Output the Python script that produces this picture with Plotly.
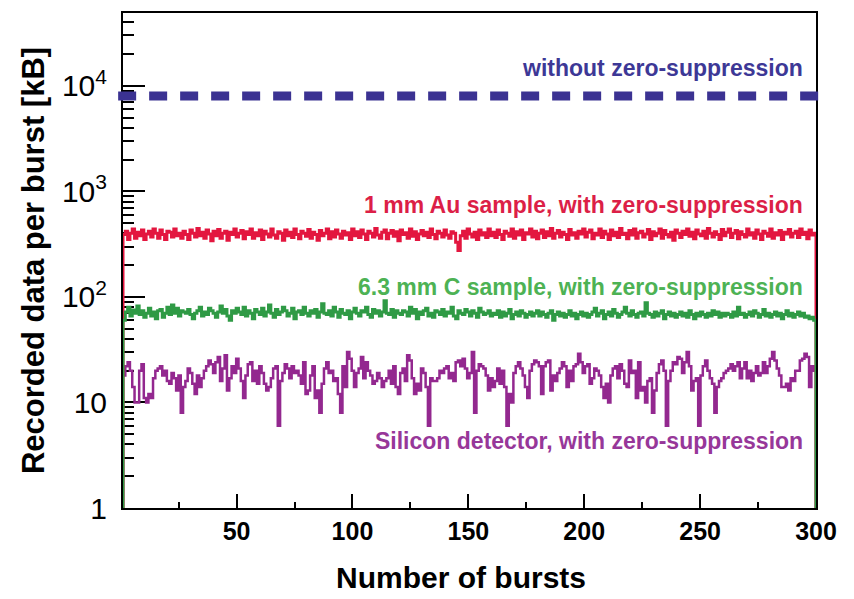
import numpy as np
import plotly.graph_objects as go

# ---------------- data ----------------
X_MIN, X_MAX = 1, 300
WITHOUT_ZS = 8000  # kB per burst, without zero-suppression

AU_1MM = [
    390, 420, 350, 400, 440, 360, 410, 380, 430, 350, 395, 420, 370, 440, 400, 360, 430, 390, 350, 420,
    410, 370, 440, 380, 400, 360, 420, 390, 350, 430, 400, 370, 445, 380, 410, 360, 430, 395, 340, 420,
    380, 435, 360, 400, 420, 345, 410, 390, 440, 370, 400, 425, 355, 415, 390, 440, 360, 405, 380, 430,
    350, 420, 395, 370, 440, 385, 360, 415, 400, 345, 430, 380, 410, 365, 440, 390, 355, 420, 400, 375,
    435, 360, 410, 390, 345, 425, 380, 400, 440, 355, 415, 370, 430, 395, 360, 420, 385, 405, 350, 440,
    380, 415, 365, 430, 395, 350, 420, 400, 370, 445, 385, 360, 410, 430, 355, 400, 425, 375, 415, 340,
    430, 390, 405, 360, 440, 375, 415, 350, 395, 425, 380, 410, 365, 440, 390, 355, 420, 400, 370, 430,
    385, 360, 415, 400, 330, 275, 380, 420, 360, 440, 395, 370, 410, 350, 430, 385, 405, 365, 440, 380,
    410, 365, 430, 390, 350, 420, 400, 375, 440, 360, 415, 385, 430, 350, 405, 395, 440, 370, 420, 355,
    400, 430, 365, 415, 380, 445, 360, 400, 425, 370, 410, 390, 350, 435, 385, 405, 360, 420, 395, 440,
    370, 410, 430, 355, 400, 385, 440, 365, 420, 395, 350, 430, 380, 410, 365, 445, 390, 400, 355, 425,
    385, 440, 360, 405, 420, 370, 395, 435, 350, 415, 380, 400, 440, 360, 425, 390, 370, 410, 345, 430,
    400, 365, 420, 390, 440, 375, 410, 355, 430, 395, 380, 420, 360, 445, 400, 370, 415, 390, 350, 435,
    380, 410, 440, 365, 400, 425, 355, 415, 390, 370, 440, 385, 405, 360, 430, 395, 350, 420, 400, 375,
    440, 360, 405, 385, 425, 350, 410, 395, 435, 370, 400, 420, 365, 440, 390, 410, 355, 430, 385, 400,
]

C_6MM = [
    60, 72, 80, 66, 75, 70, 82, 68, 74, 64, 70, 78, 66, 72, 62, 74, 76, 64, 70, 80,
    68, 84, 70, 78, 66, 74, 72, 70, 76, 68, 62, 70, 74, 80, 66, 72, 68, 78, 74, 70,
    64, 72, 82, 70, 76, 66, 60, 74, 70, 78, 72, 68, 80, 66, 74, 70, 62, 76, 72, 68,
    78, 66, 72, 84, 70, 64, 76, 68, 72, 80, 74, 66, 70, 78, 62, 72, 74, 68, 80, 70,
    66, 74, 70, 76, 64, 72, 86, 70, 68, 74, 66, 80, 72, 64, 76, 70, 68, 74, 62, 72,
    78, 70, 66, 74, 72, 80, 68, 64, 76, 70, 74, 66, 72, 92, 70, 68, 76, 64, 74, 70,
    68, 74, 72, 66, 80, 70, 76, 62, 72, 68, 74, 78, 66, 70, 64, 74, 72, 68, 76, 66,
    72, 70, 80, 66, 62, 74, 70, 68, 76, 72, 66, 74, 70, 64, 78, 72, 68, 70, 74, 66,
    70, 68, 74, 64, 72, 66, 70, 76, 62, 68, 72, 66, 74, 70, 64, 68, 72, 66, 70, 74,
    66, 72, 68, 64, 70, 74, 60, 68, 72, 66, 70, 64, 68, 74, 66, 70, 62, 68, 72, 66,
    70, 64, 68, 72, 78, 66, 70, 74, 62, 68, 72, 66, 76, 70, 64, 68, 72, 80, 70, 66,
    74, 68, 64, 70, 72, 66, 88, 70, 68, 64, 72, 66, 70, 74, 62, 68, 72, 66, 70, 64,
    68, 72, 66, 70, 64, 74, 68, 62, 70, 66, 72, 68, 64, 70, 66, 74, 68, 72, 64, 70,
    66, 70, 68, 64, 72, 66, 80, 68, 70, 64, 68, 72, 66, 74, 70, 64, 68, 76, 66, 70,
    64, 68, 72, 66, 70, 62, 68, 74, 66, 70, 64, 68, 72, 66, 70, 64, 66, 62, 64, 60,
]

SILICON = [
    18, 22, 24, 20, 14, 10, 10, 20, 23, 11, 10, 12, 11, 17, 20, 21, 22, 18, 20, 16,
    15, 19, 17, 13, 18, 8, 14, 16, 21, 19, 15, 12, 18, 14, 17, 20, 22, 25, 23, 19,
    24, 27, 16, 21, 28, 13, 17, 22, 19, 26, 21, 16, 11, 18, 23, 24, 16, 20, 15, 22,
    19, 15, 13, 14, 17, 21, 22, 6, 16, 19, 23, 21, 17, 22, 19, 20, 18, 15, 24, 12,
    13, 18, 22, 11, 13, 8, 15, 21, 24, 19, 20, 16, 17, 12, 8, 22, 14, 30, 26, 20,
    14, 19, 21, 27, 17, 24, 20, 18, 15, 16, 19, 17, 14, 16, 17, 20, 15, 22, 14, 12,
    19, 21, 16, 28, 25, 17, 12, 15, 13, 21, 19, 14, 6, 17, 16, 16, 17, 20, 19, 21,
    22, 17, 19, 16, 24, 25, 22, 26, 21, 17, 19, 30, 8, 20, 23, 22, 21, 18, 13, 17,
    14, 16, 21, 15, 20, 14, 6, 12, 10, 19, 22, 24, 21, 18, 14, 11, 20, 23, 25, 24,
    22, 12, 22, 24, 25, 13, 18, 16, 19, 21, 24, 22, 14, 20, 16, 22, 23, 29, 24, 19,
    22, 23, 15, 17, 21, 20, 18, 14, 11, 15, 10, 18, 21, 22, 17, 23, 20, 15, 14, 25,
    19, 20, 11, 24, 13, 14, 10, 16, 17, 8, 13, 19, 23, 25, 20, 6, 16, 20, 24, 23,
    27, 26, 19, 24, 30, 22, 13, 16, 17, 6, 18, 22, 25, 20, 17, 15, 8, 14, 16, 17,
    19, 20, 21, 23, 20, 22, 24, 17, 21, 24, 17, 20, 16, 19, 22, 18, 19, 24, 19, 22,
    26, 30, 25, 21, 18, 14, 14, 15, 13, 17, 16, 20, 20, 25, 26, 29, 27, 14, 22, 20,
]

X_TICKS = [50, 100, 150, 200, 250, 300]
Y_TICKS = [1, 10, 100, 1000, 10000]
Y_TICKTEXT = ["1", "10", "10<sup>2</sup>", "10<sup>3</sup>", "10<sup>4</sup>"]

X_TITLE = "Number of bursts"
Y_TITLE = "Recorded data per burst [kB]"
LABEL_WITHOUT = "without zero-suppression"
LABEL_AU = "1 mm Au sample, with zero-suppression"
LABEL_C = "6.3 mm C sample, with zero-suppression"
LABEL_SI = "Silicon detector, with zero-suppression"

# ---------------- helpers ----------------
FLOOR = 1.0


def hist_path(vals):
    n = len(vals)
    edges = np.linspace(X_MIN, X_MAX, n + 1)
    xs = [edges[0]] + list(edges) + [edges[-1]]
    ys = [FLOOR] + list(vals) + [vals[-1], FLOOR]
    return xs, ys


fig = go.Figure()

RED = "#e3163f"
GREEN = "#2f9a45"
PURPLE = "#93288f"
INDIGO = "#3b3292"

for vals, col, w in [(SILICON, PURPLE, 2.5), (AU_1MM, RED, 3), (C_6MM, GREEN, 3)]:
    xs, ys = hist_path(vals)
    fig.add_trace(go.Scatter(x=xs, y=ys, mode="lines", line=dict(color=col, width=w, shape="hv"),
                             hoverinfo="skip", showlegend=False))

# dashed reference level (slightly overhanging the frame, as in the original)
fig.add_shape(type="line", xref="paper", yref="y", x0=-0.007, x1=1.006,
              y0=WITHOUT_ZS, y1=WITHOUT_ZS, layer="above",
              line=dict(color=INDIGO, width=9, dash="18px,13px"))

# minor tick values
y_minor = [m * 10 ** d for d in range(0, 5) for m in range(2, 10) if m * 10 ** d < 50000]
x_minor = [25, 75, 125, 175, 225, 275]

NARROW = "Liberation Sans Narrow, Liberation Sans, Arial"
tickfont_x = dict(family=NARROW, size=25, color="black", weight="bold")
tickfont_y = dict(family=NARROW, size=30, color="black")

fig.update_layout(
    width=854, height=599,
    margin=dict(l=123, r=38, t=11, b=91),
    plot_bgcolor="white", paper_bgcolor="white",
    xaxis=dict(
        range=[X_MIN, X_MAX], showgrid=False, zeroline=False,
        showline=True, linecolor="black", linewidth=2, mirror=True,
        ticks="inside", ticklen=14, tickwidth=2, tickcolor="black",
        tickmode="array", tickvals=X_TICKS, tickfont=tickfont_x,
        minor=dict(ticks="inside", ticklen=6, tickwidth=2, tickcolor="black",
                   tickmode="array", tickvals=x_minor),
        layer="below traces",
    ),
    yaxis=dict(
        type="log", range=[0, 4.69], showgrid=False, zeroline=False,
        showline=True, linecolor="black", linewidth=2, mirror=True,
        ticks="inside", ticklen=22, tickwidth=2, tickcolor="black",
        tickmode="array", tickvals=Y_TICKS, ticktext=Y_TICKTEXT, tickfont=tickfont_y,
        ticklabelstandoff=8,
        minor=dict(ticks="inside", ticklen=11, tickwidth=2, tickcolor="black",
                   tickmode="array", tickvals=y_minor),
        title=dict(text="<b>" + Y_TITLE + "</b>", standoff=8,
                   font=dict(family="Liberation Sans, Arial", size=31, color="black")),
        layer="below traces",
    ),
)

# x-axis title (placed slightly left of centre, as in the original)
fig.add_annotation(text="<b>" + X_TITLE + "</b>", xref="paper", yref="paper", x=0.488, y=-0.141,
                   xanchor="center", yanchor="middle", showarrow=False,
                   font=dict(family=NARROW, size=30, color="black"))

ann_font = "Liberation Sans, Arial"
for text, py, col in [(LABEL_WITHOUT, 0.888, "#3d3896"), (LABEL_AU, 0.613, "#dc1f47"),
                      (LABEL_C, 0.447, "#4db254"), (LABEL_SI, 0.135, "#973799")]:
    fig.add_annotation(text="<b>" + text + "</b>", xref="paper", yref="paper", x=0.984, y=py,
                       xanchor="right", yanchor="middle", showarrow=False,
                       font=dict(family=ann_font, size=23, color=col))

fig.write_html("out.html")
